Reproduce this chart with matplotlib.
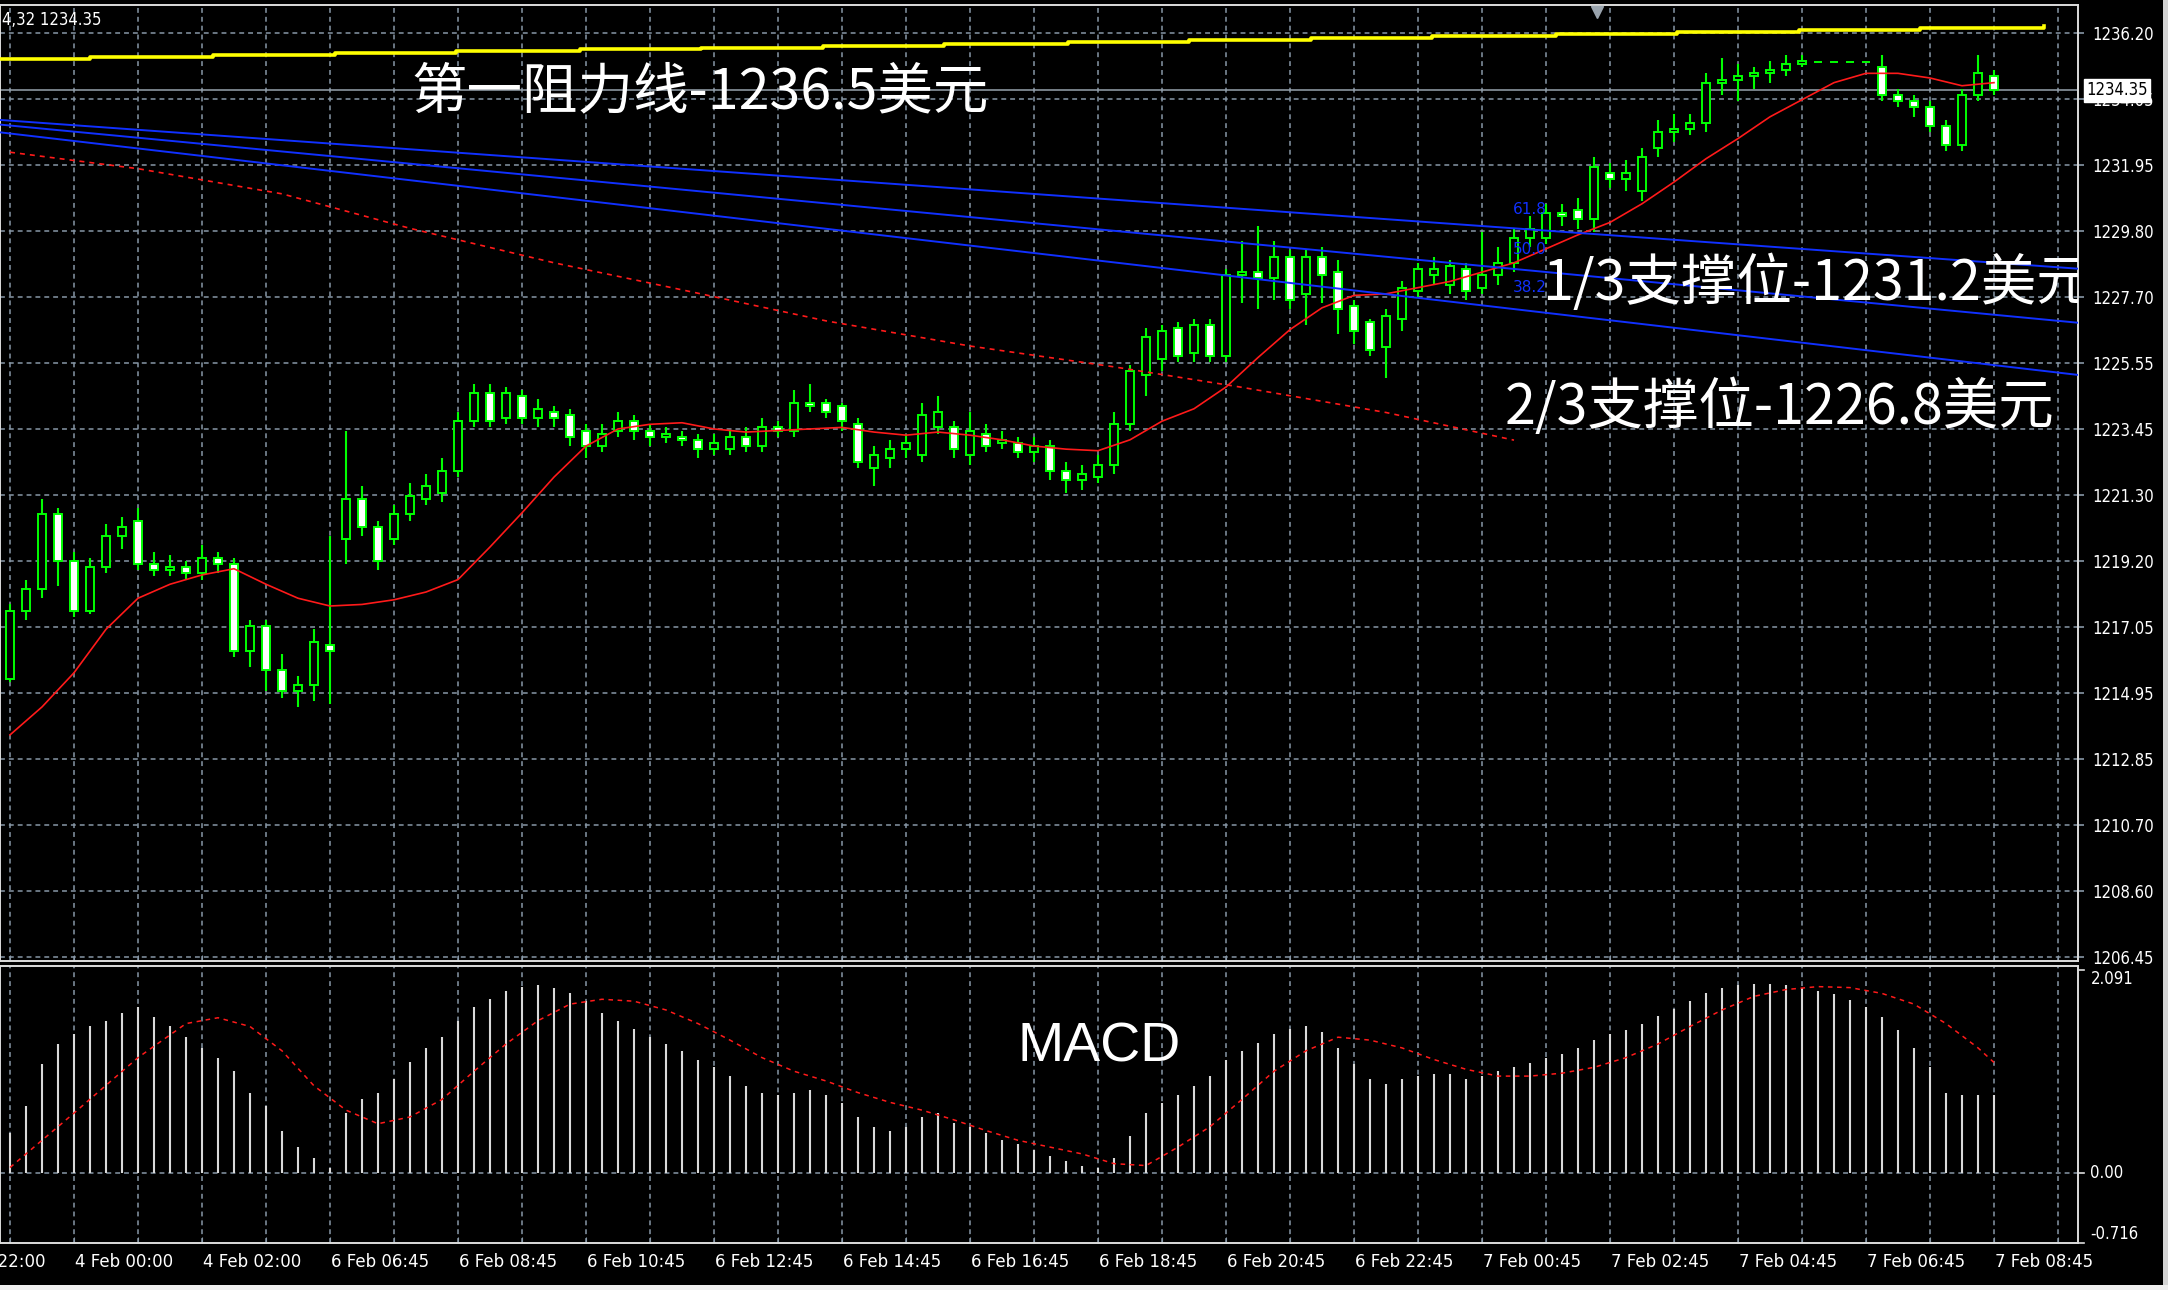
import matplotlib
matplotlib.use('Agg')
import matplotlib.pyplot as plt
from matplotlib.transforms import blended_transform_factory
from matplotlib.patches import Rectangle
import numpy as np

# ---- data (15 min bars) ----
opens = [
    1215.4, 1217.6, 1218.3, 1220.7, 1219.2, 1217.6, 1219.0, 1220.0, 1220.5, 1219.1,
    1218.9, 1219.0, 1218.8, 1219.3, 1219.1, 1216.3, 1217.1, 1215.7, 1215.0, 1215.2,
    1216.5, 1219.9, 1221.2, 1220.3, 1219.9, 1220.7, 1221.2, 1221.4, 1222.1, 1223.7,
    1224.6, 1223.8, 1224.5, 1223.8, 1224.0, 1223.9, 1223.4, 1222.9, 1223.4, 1223.7,
    1223.4, 1223.2, 1223.2, 1223.1, 1222.8, 1222.8, 1223.2, 1222.9, 1223.5, 1223.4,
    1224.3, 1224.3, 1224.2, 1223.6, 1222.2, 1222.5, 1222.8, 1222.6, 1223.5, 1223.5,
    1222.6, 1223.3, 1223.0, 1223.0, 1222.7, 1222.9, 1222.1, 1221.8, 1221.9, 1222.3,
    1223.6, 1225.2, 1225.7, 1226.7, 1225.9, 1226.8, 1225.8, 1228.4, 1228.5, 1228.3,
    1229.0, 1227.8, 1229.0, 1228.5, 1227.4, 1226.9, 1226.1, 1227.0, 1227.9, 1228.4,
    1228.1, 1228.6, 1228.0, 1228.4, 1228.8, 1229.6, 1229.6, 1230.4, 1230.5, 1230.2,
    1231.7, 1231.5, 1231.1, 1232.5, 1233.0, 1233.1, 1233.3, 1234.6, 1234.7, 1234.8,
    1234.9, 1235.0, 1235.2, 1235.28, 1235.28, 1235.28, 1235.28, 1235.1, 1234.2, 1234.0,
    1233.8, 1233.2, 1232.6, 1234.2, 1234.8]
highs = [
    1217.8, 1218.6, 1221.2, 1220.9, 1219.5, 1219.3, 1220.4, 1220.6, 1220.9, 1219.5,
    1219.4, 1219.2, 1219.7, 1219.5, 1219.3, 1217.3, 1217.3, 1216.2, 1215.5, 1217.0,
    1220.0, 1223.4, 1221.6, 1220.5, 1221.0, 1221.7, 1222.0, 1222.5, 1224.0, 1224.9,
    1224.9, 1224.8, 1224.7, 1224.4, 1224.2, 1224.1, 1223.6, 1223.6, 1224.0, 1223.9,
    1223.6, 1223.5, 1223.4, 1223.3, 1223.3, 1223.4, 1223.5, 1223.8, 1223.7, 1224.7,
    1224.9, 1224.4, 1224.3, 1223.8, 1222.9, 1223.1, 1223.3, 1224.3, 1224.5, 1223.7,
    1224.0, 1223.6, 1223.4, 1223.2, 1223.2, 1223.1, 1222.4, 1222.3, 1222.6, 1224.0,
    1225.5, 1226.7, 1226.8, 1226.9, 1227.0, 1227.0, 1228.6, 1229.5, 1230.0, 1229.5,
    1229.2, 1229.2, 1229.3, 1228.9, 1227.6, 1227.0, 1227.3, 1228.2, 1228.8, 1229.0,
    1228.9, 1228.8, 1229.8, 1229.3, 1229.9, 1230.3, 1230.7, 1230.7, 1230.9, 1232.2,
    1232.0, 1232.1, 1232.5, 1233.4, 1233.6, 1233.6, 1234.9, 1235.4, 1235.2, 1235.1,
    1235.3, 1235.5, 1235.5, 1235.28, 1235.28, 1235.28, 1235.28, 1235.5, 1234.4, 1234.2,
    1234.0, 1233.4, 1234.4, 1235.5, 1235.0]
lows = [
    1215.3, 1217.3, 1218.0, 1218.4, 1217.4, 1217.5, 1218.8, 1219.6, 1218.9, 1218.7,
    1218.7, 1218.6, 1218.6, 1218.8, 1216.1, 1215.8, 1215.0, 1214.8, 1214.5, 1214.7,
    1214.6, 1219.1, 1220.0, 1218.9, 1219.7, 1220.5, 1221.0, 1221.1, 1221.9, 1223.5,
    1223.5, 1223.6, 1223.6, 1223.5, 1223.5, 1222.9, 1222.5, 1222.7, 1223.2, 1223.1,
    1222.9, 1223.0, 1222.9, 1222.5, 1222.6, 1222.6, 1222.7, 1222.7, 1223.2, 1223.2,
    1224.0, 1223.8, 1223.4, 1222.2, 1221.6, 1222.2, 1222.5, 1222.4, 1223.3, 1222.5,
    1222.3, 1222.7, 1222.8, 1222.5, 1222.4, 1221.8, 1221.4, 1221.5, 1221.7, 1222.0,
    1223.4, 1224.5, 1225.3, 1225.6, 1225.6, 1225.6, 1225.6, 1227.5, 1227.3, 1227.6,
    1227.3, 1226.8, 1227.5, 1226.5, 1226.2, 1225.8, 1225.1, 1226.6, 1227.7, 1228.1,
    1227.8, 1227.6, 1227.8, 1228.1, 1228.5, 1229.3, 1229.4, 1230.0, 1229.9, 1229.8,
    1231.2, 1231.1, 1230.8, 1232.2, 1232.7, 1232.9, 1233.0, 1234.2, 1234.0, 1234.4,
    1234.6, 1234.8, 1235.1, 1235.28, 1235.28, 1235.28, 1235.28, 1234.0, 1233.8, 1233.5,
    1233.0, 1232.4, 1232.4, 1234.0, 1234.2]
closes = [
    1217.6, 1218.3, 1220.7, 1219.2, 1217.6, 1219.0, 1220.0, 1220.3, 1219.1, 1218.9,
    1219.0, 1218.8, 1219.3, 1219.1, 1216.3, 1217.1, 1215.7, 1215.0, 1215.2, 1216.6,
    1216.3, 1221.2, 1220.3, 1219.2, 1220.7, 1221.3, 1221.6, 1222.1, 1223.7, 1224.6,
    1223.7, 1224.6, 1223.8, 1224.1, 1223.8, 1223.2, 1222.9, 1223.3, 1223.7, 1223.4,
    1223.2, 1223.3, 1223.1, 1222.8, 1223.0, 1223.2, 1222.9, 1223.5, 1223.4, 1224.3,
    1224.2, 1224.0, 1223.7, 1222.4, 1222.6, 1222.8, 1223.0, 1223.9, 1224.0, 1222.8,
    1223.4, 1222.9, 1223.1, 1222.7, 1222.9, 1222.1, 1221.8, 1222.0, 1222.3, 1223.6,
    1225.3, 1226.4, 1226.6, 1225.8, 1226.8, 1225.8, 1228.4, 1228.5, 1228.3, 1229.0,
    1227.6, 1229.0, 1228.4, 1227.3, 1226.6, 1226.0, 1227.1, 1228.0, 1228.6, 1228.6,
    1228.7, 1227.9, 1228.4, 1228.8, 1229.6, 1229.9, 1230.4, 1230.3, 1230.2, 1231.9,
    1231.5, 1231.7, 1232.2, 1233.0, 1233.1, 1233.3, 1234.6, 1234.7, 1234.8, 1234.9,
    1235.0, 1235.2, 1235.3, 1235.28, 1235.28, 1235.28, 1235.28, 1234.2, 1234.0, 1233.8,
    1233.2, 1232.6, 1234.2, 1234.9, 1234.35]

# red moving average, sampled every 2 bars
ma_fast = [
    1213.6, 1214.5, 1215.6, 1217.0, 1218.0, 1218.45, 1218.75, 1218.95, 1218.45, 1218.0,
    1217.75, 1217.8, 1217.95, 1218.2, 1218.6, 1219.65, 1220.75, 1221.9, 1222.9, 1223.45,
    1223.6, 1223.65, 1223.45, 1223.35, 1223.4, 1223.45, 1223.5, 1223.35, 1223.25, 1223.35,
    1223.25, 1223.1, 1222.9, 1222.8, 1222.75, 1223.1, 1223.7, 1224.1, 1224.8, 1225.75,
    1226.65, 1227.35, 1227.75, 1227.8, 1228.0, 1228.2, 1228.5, 1228.8, 1229.25, 1229.7,
    1230.1, 1230.7, 1231.4, 1232.15, 1232.8, 1233.5, 1234.05, 1234.6, 1234.9, 1234.9,
    1234.75, 1234.5, 1234.6]

# red dashed slow average
ma_slow_idx = [0, 8, 17, 25, 34, 43, 51, 60, 69, 77, 86, 94]
ma_slow = [1232.36, 1231.83, 1231.02, 1229.91, 1228.80, 1227.82,
           1226.93, 1226.12, 1225.45, 1224.79, 1223.98, 1223.09]

# yellow stepped line (step start positions, last entry = end of line)
yellow_idx = [-0.625, 5.0, 12.7, 20.3, 27.9, 35.6, 43.2, 50.8, 58.4, 66.1,
              73.7, 81.3, 88.9, 96.6, 104.2, 111.8, 119.4, 127.1]
yellow_val = [1235.36, 1235.42, 1235.48, 1235.55, 1235.61, 1235.67, 1235.73, 1235.79,
              1235.85, 1235.92, 1235.98, 1236.04, 1236.10, 1236.16, 1236.23, 1236.29,
              1236.35, 1236.42]

# blue fan lines (left edge, right edge)
fan_idx = [-0.625, 129.25]
fan_618 = [1233.40, 1228.61]
fan_500 = [1233.25, 1226.87]
fan_382 = [1233.00, 1225.19]

macd_hist = [
    0.41, 0.69, 1.12, 1.33, 1.43, 1.51, 1.57, 1.65, 1.71, 1.61,
    1.51, 1.40, 1.29, 1.19, 1.05, 0.83, 0.69, 0.44, 0.27, 0.16,
    0.06, 0.62, 0.76, 0.83, 0.97, 1.14, 1.29, 1.40, 1.57, 1.71,
    1.79, 1.88, 1.92, 1.94, 1.91, 1.85, 1.77, 1.65, 1.57, 1.48,
    1.40, 1.33, 1.26, 1.17, 1.09, 1.00, 0.90, 0.83, 0.81, 0.83,
    0.86, 0.81, 0.72, 0.58, 0.48, 0.44, 0.48, 0.58, 0.62, 0.52,
    0.48, 0.41, 0.34, 0.30, 0.24, 0.18, 0.13, 0.08, 0.06, 0.16,
    0.38, 0.62, 0.72, 0.81, 0.90, 1.00, 1.17, 1.26, 1.34, 1.43,
    1.48, 1.51, 1.45, 1.29, 1.12, 0.97, 0.92, 0.97, 1.00, 1.02,
    1.02, 0.97, 1.00, 1.05, 1.09, 1.13, 1.19, 1.23, 1.29, 1.37,
    1.43, 1.47, 1.54, 1.62, 1.69, 1.77, 1.85, 1.91, 1.94, 1.95,
    1.95, 1.94, 1.91, 1.88, 1.84, 1.78, 1.71, 1.61, 1.47, 1.29,
    1.09, 0.83, 0.81, 0.81, 0.81]
sig_idx = [0, 4, 8] + list(range(11, 124, 2)) + [124]
sig_val = [0.06, 0.62, 1.19, 1.54, 1.60, 1.51, 1.26, 0.90, 0.65, 0.51, 0.58, 0.76, 1.05,
           1.33, 1.57, 1.74, 1.79, 1.77, 1.68, 1.54, 1.37, 1.19, 1.05,
           0.95, 0.83, 0.73, 0.65, 0.55, 0.44, 0.34, 0.27, 0.20, 0.10,
           0.08, 0.27, 0.48, 0.76, 1.05, 1.26, 1.40, 1.37, 1.29, 1.17,
           1.07, 1.00, 1.00, 1.03, 1.09, 1.19, 1.33, 1.51, 1.68, 1.82,
           1.89, 1.92, 1.91, 1.85, 1.74, 1.54, 1.29, 1.14]

price_ticks = [1236.20, 1234.075, 1231.95, 1229.825, 1227.70, 1225.575, 1223.45, 1221.325,
               1219.20, 1217.075, 1214.95, 1212.825, 1210.70, 1208.575, 1206.45]
price_labels = ['1236.20', '1234.05', '1231.95', '1229.80', '1227.70', '1225.55', '1223.45',
                '1221.30', '1219.20', '1217.05', '1214.95', '1212.85', '1210.70', '1208.60',
                '1206.45']
time_pos = list(range(-4, 125, 8))
time_labels = ['3 Feb 22:00', '4 Feb 00:00', '4 Feb 02:00', '6 Feb 06:45', '6 Feb 08:45',
               '6 Feb 10:45', '6 Feb 12:45', '6 Feb 14:45', '6 Feb 16:45', '6 Feb 18:45',
               '6 Feb 20:45', '6 Feb 22:45', '7 Feb 00:45', '7 Feb 02:45', '7 Feb 04:45',
               '7 Feb 06:45', '7 Feb 08:45']

# ---- styling ----
W, H = 2168, 1290
BG = '#000000'
GRID = '#8797a6'
LIME = '#00ff00'
FRAME = '#dcdcdc'
CJK = ['Noto Sans CJK SC', 'DejaVu Sans']
dash = (0, (3.2, 2.6))
XL = (-0.625, 129.25)

fig = plt.figure(figsize=(W / 100, H / 100), dpi=100, facecolor=BG)
ax = fig.add_axes([0, 1 - 961 / H, 2078 / W, (961 - 5) / H], facecolor=BG)
axm = fig.add_axes([0, 1 - 1243 / H, 2078 / W, (1243 - 966) / H], facecolor=BG)

x = np.arange(len(closes))
o = np.array(opens); c = np.array(closes)
hi = np.array(highs); lo = np.array(lows)

for a in (ax, axm):
    for s in a.spines.values():
        s.set_color(FRAME)
        s.set_linewidth(1.4)
    a.set_xticks(range(0, 130, 4))
    a.xaxis.grid(True, color=GRID, ls=dash, lw=1.1)
    a.set_axisbelow(True)
    a.tick_params(axis='x', which='major', direction='in', length=4, color=GRID,
                  labelbottom=False)

ax.yaxis.tick_right()
ax.set_yticks(price_ticks)
ax.set_yticklabels(price_labels)
ax.yaxis.grid(True, color=GRID, ls=dash, lw=1.1)
ax.tick_params(axis='y', direction='out', length=4, width=1.2, color=GRID,
               labelcolor='white', labelsize=12, pad=6)
for t in ax.get_yticklabels():
    t.set_fontstretch('condensed')

# candles
ax.vlines(x, lo, hi, color=LIME, lw=1.5, zorder=3)
fills = np.where(c < o, 'white', 'black')
ax.bar(x, np.abs(c - o), bottom=np.minimum(o, c), width=0.5, color=fills,
       edgecolor=LIME, linewidth=1.4, zorder=4)

# indicator lines
ax.plot(range(0, len(closes), 2), ma_fast, color='#ff1a1a', lw=1.2, zorder=5)
ax.plot(ma_slow_idx, ma_slow, color='#ff1a1a', lw=1.2, ls=(0, (3, 3)), zorder=5)
ax.plot(yellow_idx, yellow_val, drawstyle='steps-post', color='#ffff00', lw=2.6, zorder=5)
for fv in (fan_618, fan_500, fan_382):
    ax.plot(fan_idx, fv, color='#1030ff', lw=1.4, zorder=5)
ax.axhline(closes[-1], color='#97a3ad', lw=1.1, zorder=2)

for lbl, yv in (('61.8', 1230.5), ('50.0', 1229.24), ('38.2', 1227.99)):
    ax.text(93.9, yv, lbl, color='#1030ff', fontsize=11, va='center', ha='left', zorder=6)

# current price box
tb = blended_transform_factory(ax.transAxes, ax.transData)
ax.text(1.004, closes[-1], '%.2f' % closes[-1], transform=tb, color='black', fontsize=12,
        fontstretch='condensed', va='center', ha='left', clip_on=False, zorder=10,
        bbox=dict(facecolor='white', edgecolor='white', pad=1.6))

# shift marker on the top border
ax.plot([99.2], [0.993], marker='v', ms=9, color='#9aa4ae',
        transform=blended_transform_factory(ax.transData, ax.transAxes),
        clip_on=False, zorder=10)

# annotations
ax.text(25.06, 1234.28, '第一阻力线-1236.5美元', family=CJK, fontsize=40, color='white',
        va='center', ha='left', zorder=8)
ax.text(95.75, 1228.12, '1/3支撑位-1231.2美元', family=CJK, fontsize=40, color='white',
        va='center', ha='left', zorder=8, clip_on=True)
ax.text(93.4, 1224.13, '2/3支撑位-1226.8美元', family=CJK, fontsize=40, color='white',
        va='center', ha='left', zorder=8)

# ---- MACD panel ----
axm.set_yticks([])
axm.axhline(0, color=GRID, ls=dash, lw=1.1, zorder=1)
axm.vlines(x, 0, macd_hist, color='#dadada', lw=1.5, zorder=3)
axm.plot(sig_idx, sig_val, color='#ff1a1a', lw=1.1, ls=(0, (3, 3)), zorder=4)
axm.text(63, 1.29, 'MACD', family=['Liberation Sans', 'DejaVu Sans'], fontsize=40,
         color='white', va='center', ha='left', zorder=6)

tm = blended_transform_factory(axm.transAxes, axm.transData)
for val, txt, va in ((2.091, '2.091', 'top'), (0.0, '0.00', 'center'),
                     (-0.716, '-0.716', 'bottom')):
    axm.text(1.006, val, txt, transform=tm, color='white', fontsize=12,
             fontstretch='condensed', va=va, ha='left', clip_on=False)
    axm.plot([1.0, 1.003], [val, val], transform=tm, color=FRAME, lw=1.2, clip_on=False)

# time axis
axm.set_xticks(time_pos, minor=True)
axm.tick_params(axis='x', which='minor', direction='out', length=5, color=FRAME, width=1.2)
tt = blended_transform_factory(axm.transData, fig.transFigure)
for p, lab in zip(time_pos, time_labels):
    axm.text(p + 0.05, 1 - 1262 / H, lab, transform=tt, color='white', fontsize=12,
             va='center', ha='left', clip_on=False)

# limits last, so tick setting can't widen them
ax.set_xlim(*XL)
axm.set_xlim(*XL)
ax.set_ylim(1206.32, 1237.10)
axm.set_ylim(-0.716, 2.132)

# top-left info
fig.text(2 / W, 1 - 20 / H, '4,32 1234.35', color='white', fontsize=12,
         fontstretch='condensed', va='center', ha='left')

# window borders
fig.patches.append(Rectangle((2163 / W, 0), 5 / W, 1, transform=fig.transFigure,
                             facecolor='#d4d4d4', edgecolor='none'))
fig.patches.append(Rectangle((0, 0), 1, 5 / H, transform=fig.transFigure,
                             facecolor='#f0f0f0', edgecolor='none'))

fig.savefig('out.png', dpi=100, facecolor=BG)
